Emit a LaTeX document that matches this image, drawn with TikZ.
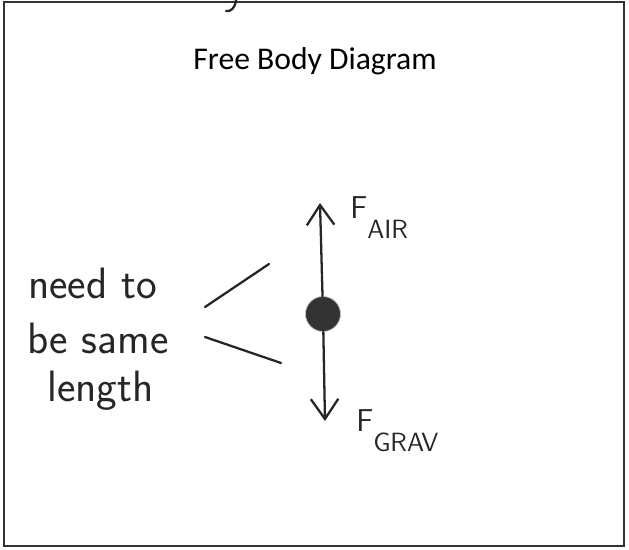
\documentclass[tikz,border=0pt]{standalone}
\usepackage{fontspec}
\setmainfont{Carlito}
\usetikzlibrary{arrows.meta}
\tikzstyle{frame} = [
    draw=black!80,
    line width=1pt
]
\tikzstyle{pen} = [
    line width=1.3pt,
    line cap=round,
    draw=black!85
]
\tikzstyle{force} = [pen, -{Straight Barb[length=4mm,width=5.5mm]}]
\tikzstyle{body} = [
    circle,
    fill=black!80,
    draw=black!25,
    minimum size=0.7cm,
    inner sep=0pt
]
\tikzstyle{scrawl} = [
    font=\sffamily\fontsize{25}{30}\selectfont,
    anchor=base west,
    inner sep=0pt,
    text=black!85
]
\tikzstyle{flabel} = [
    font=\sffamily\fontsize{18}{22}\selectfont,
    anchor=base west,
    inner sep=0pt,
    text=black!85
]
\newcommand{\fsub}[1]{\raisebox{-11pt}{\fontsize{15}{15}\selectfont #1}}

\begin{document}
\begin{tikzpicture}[x=0.02cm, y=-0.02cm]
\useasboundingbox (0,0) rectangle (629,550);
\draw[frame] (4,2) rectangle (624,546);

% scrawl cut off at the top
\draw[pen] (236,0) .. controls (235,8) and (231,12) .. (226,11);

\node (title) at (315,61) {\fontsize{18}{21}\selectfont Free Body Diagram};

\node (ball) [body] at (323,314) {};
\coordinate (airtip) at (320,203);
\coordinate (gravtip) at (325,421);

\draw[force] (ball) -- (airtip);
\draw[force] (ball) -- (gravtip);

\node (fair) [flabel] at (350,219) {F\fsub{AIR}};
\node (fgrav) [flabel] at (356,432) {F\fsub{GRAV}};

\node (note1) [scrawl] at (28,299) {need to};
\node (note2) [scrawl] at (27,354) {be same};
\node (note3) [scrawl] at (47,402) {length};

\coordinate (upperA) at (205,307);
\coordinate (upperB) at (269,264);
\coordinate (lowerA) at (205,337);
\coordinate (lowerB) at (281,363);
\draw[pen] (upperA) -- (upperB);
\draw[pen] (lowerA) -- (lowerB);

\end{tikzpicture}
\end{document}
